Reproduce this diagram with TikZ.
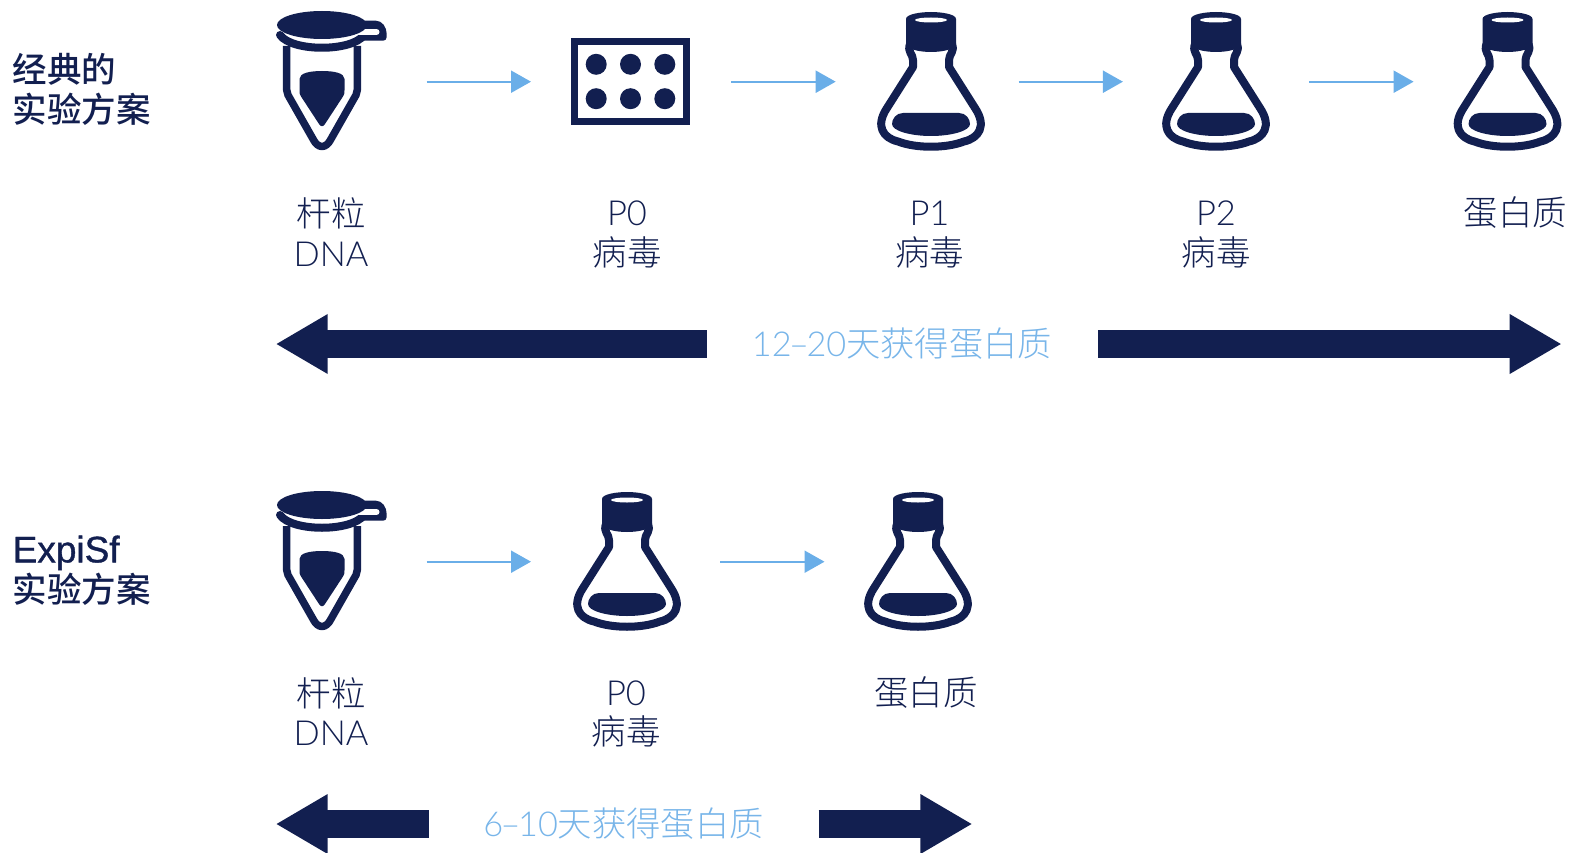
\documentclass[tikz,border=0pt]{standalone}
\usepackage{fontspec}
\usetikzlibrary{arrows.meta}
\setmainfont{Lato Light}
\newfontfamily\zhlight{Noto Sans CJK SC Light}
\newfontfamily\zhmid{Noto Sans CJK SC Medium}
\newfontfamily\latmid[FakeBold=1]{Liberation Sans}
\newcommand{\shortdash}{\kern-2.5pt–\kern-2.5pt}
\definecolor{navy}{HTML}{121F50}
\definecolor{skyb}{HTML}{6AAEE8}
\definecolor{skyt}{HTML}{78B5E9}
\tikzset{
  lab/.style={inner sep=0pt,align=center,text=navy,font=\fontsize{34.5}{39.5}\selectfont},
  head/.style={inner sep=0pt,align=left,anchor=west,text=navy,font=\fontsize{34.5}{40}\selectfont},
  span/.style={inner sep=0pt,text=skyt,font=\fontsize{34.3}{40}\selectfont},
  thin arrow/.style={draw=skyb,line width=2.2pt,-{Triangle[length=20pt,width=22pt]}},
  big arrow/.style={draw=navy,line width=28pt,-{Triangle[length=52pt,width=56pt]}},
  tubeicon/.pic={
    \fill[navy] (40,20.7) -- (54,20.7) .. controls (60,20.7) and (64.7,27) .. (64.7,34)
       -- (64.7,37) .. controls (64.7,39.5) and (63,40.7) .. (61,40.7) -- (40,40.7) -- cycle;
    \draw[navy,line width=8pt,line cap=round] (-42,35) .. controls (-30,52) and (30,52) .. (42,35);
    \draw[white,line width=6pt,line cap=round] (34,32) -- (54.5,32);
    \fill[navy] (0,25) ellipse [x radius=45,y radius=14];
    \draw[navy,line width=7.5pt,line join=round] (-35.3,46) -- (-35.3,90) .. controls (-35.3,92) .. (-34,95)
       -- (-9,139) .. controls (-4,149) and (4,149) .. (9,139) -- (34,95)
       .. controls (35.3,92) .. (35.3,90) -- (35.3,46);
    \fill[navy] (-22.5,79) .. controls (-22.5,73) and (-12,71) .. (0,71) .. controls (12,71) and (22.5,73) .. (22.5,79)
       -- (22.5,90) .. controls (22.5,94) .. (20,98) -- (3,124) .. controls (1,127) and (-1,127) .. (-3,124)
       -- (-20,98) .. controls (-22.5,94) .. (-22.5,90) -- cycle;
  },
  flaskicon/.pic={
    \draw[navy,line width=8pt,line join=round] (-21,44) .. controls (-24,52) and (-18,54) .. (-18,60) -- (-18,67)
       -- (-44,108) .. controls (-56,126) and (-48,138) .. (-33,141.5) .. controls (-15,148.5) and (15,148.5) .. (33,141.5)
       .. controls (48,138) and (56,126) .. (44,108) -- (18,67) -- (18,60) .. controls (18,54) and (24,52) .. (21,44);
    \fill[navy] (-25,19) .. controls (-25,14) and (-10,12) .. (0,12) .. controls (10,12) and (25,14) .. (25,19)
       -- (25,44) .. controls (25,49) and (12,52) .. (0,52) .. controls (-12,52) and (-25,49) .. (-25,44) -- cycle;
    \fill[white] (0,20) ellipse [x radius=16,y radius=2.5];
    \fill[navy] (-28,113) -- (28,113) .. controls (35,113) and (39,119) .. (39,124) .. controls (39,131) and (20,136) .. (0,136)
       .. controls (-20,136) and (-39,131) .. (-39,124) .. controls (-39,119) and (-35,113) .. (-28,113) -- cycle;
  },
  plateicon/.pic={
    \draw[navy,line width=7pt] (-56.3,41.8) rectangle (56.3,121.2);
    \foreach \px in {-34.3,0,34.3} \foreach \py in {64.3,98.7} \fill[navy] (\px,\py) circle [radius=10.5];
  }
}
\begin{document}
\begin{tikzpicture}[x=1pt,y=-1pt]
\useasboundingbox (0,0) rectangle (1581,853);
% headings
\node[head] (h1) at (12.5,89.5) {{\zhmid 经典的}\\{\zhmid 实验方案}};
\node[head] (h2) at (12.5,570.5) {{\latmid\fontsize{37}{40}\selectfont ExpiSf}\\{\zhmid 实验方案}};
% icons row 1
\pic at (322,0) {tubeicon};
\pic at (630.5,0) {plateicon};
\pic at (931,0) {flaskicon};
\pic at (1216,0) {flaskicon};
\pic at (1507.5,0) {flaskicon};
% icons row 2
\pic at (322,480) {tubeicon};
\pic at (627,480) {flaskicon};
\pic at (918,480) {flaskicon};
% labels row 1
\node[lab] (l1) at (331,232) {{\zhlight 杆粒}\\DNA};
\node[lab] (l2) at (627,234.5) {P0\\{\zhlight 病毒}};
\node[lab] (l3) at (929.5,234.5) {P1\\{\zhlight 病毒}};
\node[lab] (l4) at (1216,234.5) {P2\\{\zhlight 病毒}};
\node[lab] (l5) at (1515.5,213) {\zhlight 蛋白质};
% labels row 2
\node[lab] (m1) at (331,711.5) {{\zhlight 杆粒}\\DNA};
\node[lab] (m2) at (626,714) {P0\\{\zhlight 病毒}};
\node[lab] (m3) at (926,693) {\zhlight 蛋白质};
% spans
\node[span] (s1) at (902,344) {12\shortdash 20{\zhlight 天获得蛋白质}};
\node[span] (s2) at (623.5,824) {6\shortdash 10{\zhlight 天获得蛋白质}};
% thin arrows
\coordinate (a1) at (426.7,81.7); \coordinate (a2) at (531,81.7);
\coordinate (b1) at (731,81.7); \coordinate (b2) at (835.7,81.7);
\coordinate (c1) at (1018.6,81.7); \coordinate (c2) at (1122.9,81.7);
\coordinate (d1) at (1309,81.7); \coordinate (d2) at (1413.6,81.7);
\coordinate (e1) at (426.7,561.7); \coordinate (e2) at (531,561.7);
\coordinate (f1) at (720,561.7); \coordinate (f2) at (824.5,561.7);
\draw[thin arrow] (a1) -- (a2);
\draw[thin arrow] (b1) -- (b2);
\draw[thin arrow] (c1) -- (c2);
\draw[thin arrow] (d1) -- (d2);
\draw[thin arrow] (e1) -- (e2);
\draw[thin arrow] (f1) -- (f2);
% big arrows
\coordinate (g1) at (706.7,344); \coordinate (g2) at (275.7,344);
\coordinate (g3) at (1098,344); \coordinate (g4) at (1561.7,344);
\coordinate (k1) at (428.8,824); \coordinate (k2) at (275.7,824);
\coordinate (k3) at (818.7,824); \coordinate (k4) at (972.4,824);
\draw[big arrow] (g1) -- (g2);
\draw[big arrow] (g3) -- (g4);
\draw[big arrow] (k1) -- (k2);
\draw[big arrow] (k3) -- (k4);
\end{tikzpicture}
\end{document}
